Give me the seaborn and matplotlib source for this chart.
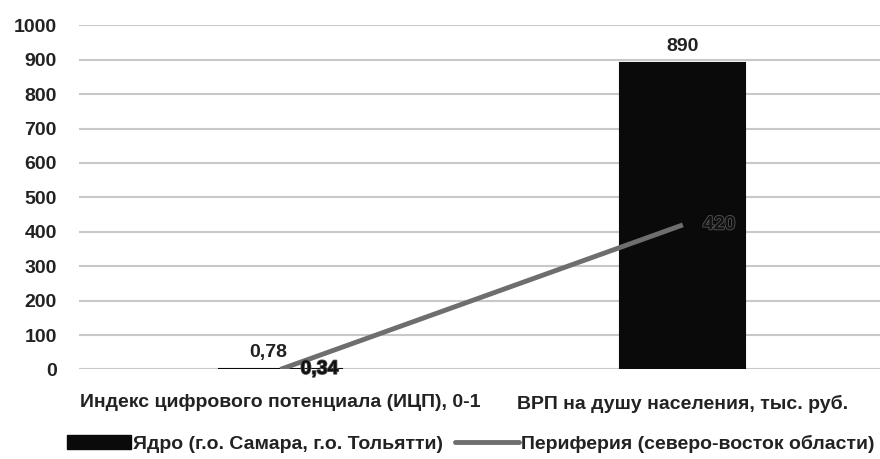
import numpy as np
import pandas as pd
import seaborn as sns
import matplotlib.pyplot as plt
import matplotlib.patheffects as pe
from matplotlib.patches import Patch
from matplotlib.lines import Line2D

categories = ['Индекс цифрового потенциала (ИЦП), 0-1', 'ВРП на душу населения, тыс. руб.']
core = [0.78, 890]
periphery = [0.34, 420]
core_labels = ['0,78', '890']
periphery_labels = ['0,34', '420']
core_name = 'Ядро (г.о. Самара, г.о. Тольятти)'
periphery_name = 'Периферия (северо-восток области)'

sns.set_theme(style='white')
plt.rcParams['font.family'] = ['Liberation Sans', 'DejaVu Sans']
plt.rcParams['font.weight'] = 'bold'

df = pd.DataFrame({'cat': categories, 'core': core, 'per': periphery})

fig, ax = plt.subplots(figsize=(8.8, 4.59), dpi=100)
fig.subplots_adjust(left=0.09, right=1.0, top=0.945, bottom=0.195)

sns.barplot(data=df, x='cat', y='core', color='#0a0a0a', width=0.31,
            saturation=1, ax=ax, zorder=2, edgecolor='#0a0a0a', linewidth=1.5)
x = np.arange(len(categories))
ax.plot(x, periphery, color='#6e6e6e', lw=3.5, zorder=3, solid_capstyle='butt')

for i in range(len(categories)):
    ax.text(x[i] - (0.03 if i == 0 else 0), core[i] + 25, core_labels[i],
            ha='center', va='bottom', fontsize=14, fontweight='bold', color='#222222')
    ax.text(x[i] + 0.05, periphery[i], periphery_labels[i], ha='left', va='center',
            fontsize=14, fontweight='bold', color='#111111', zorder=4,
            path_effects=[pe.withStroke(linewidth=1.2, foreground='#555555')])

ax.set_ylim(0, 1000)
ax.set_yticks(range(0, 1001, 100))
ax.set_xlim(-0.5, 1.49)
ax.yaxis.grid(True, color='#c8c8c8', lw=1.5)
ax.set_axisbelow(True)
for s in ax.spines.values():
    s.set_visible(False)
ax.set_xlabel('')
ax.set_ylabel('')
ax.tick_params(axis='y', labelsize=14, pad=16, length=0)
ax.tick_params(axis='x', labelsize=14, pad=18, length=0)
for t in ax.get_yticklabels() + ax.get_xticklabels():
    t.set_fontweight('bold')
    t.set_color('#222222')

handles = [Patch(color='#0a0a0a', label=core_name),
           Line2D([], [], color='#6e6e6e', lw=3.5, label=periphery_name)]
fig.legend(handles=handles, loc='lower center', ncol=2, frameon=False,
           fontsize=14, bbox_to_anchor=(0.535, -0.025), handlelength=3.3,
           columnspacing=0.6, handletextpad=0.1, labelcolor='#222222')

fig.savefig('out.png', dpi=100)
